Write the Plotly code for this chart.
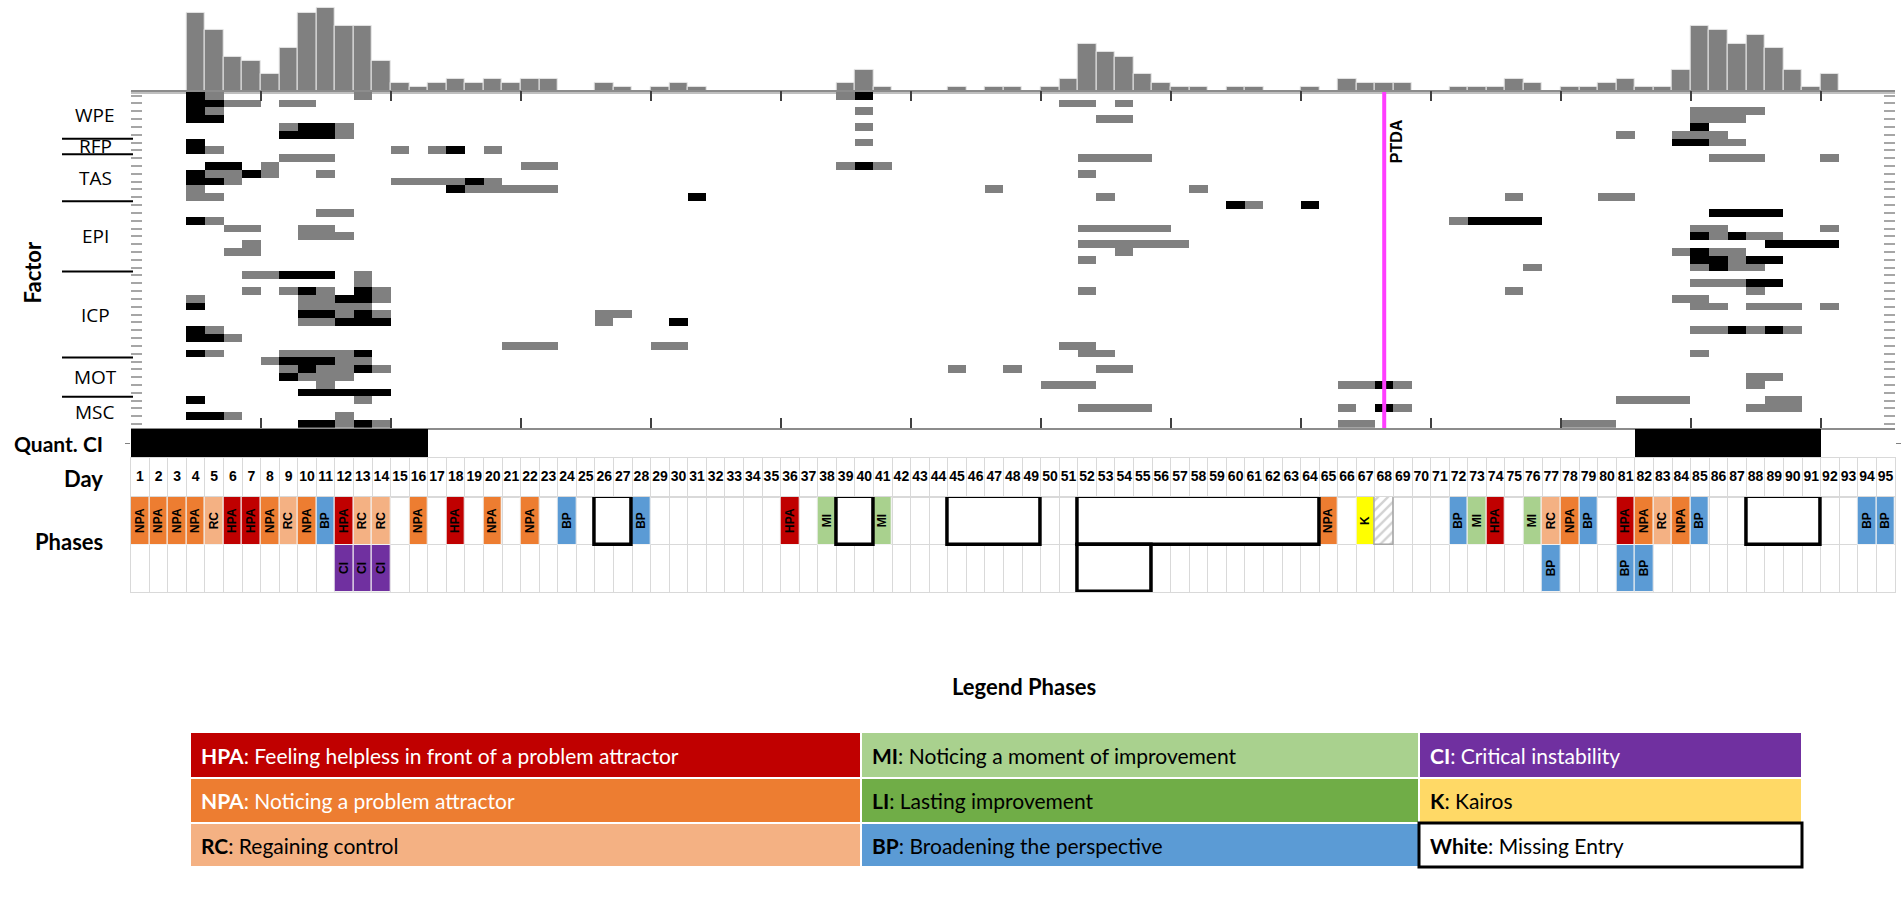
import plotly.graph_objects as go

W, H = 1902, 908

# ---------------- data ----------------
days = list(range(1, 96))
day_labels = [str(d) for d in days]

hist_counts = [0, 0, 0, 18, 14, 8, 7, 4, 10, 18,
               19, 15, 15, 7, 2, 1, 2, 3, 2, 3,
               2, 3, 3, 0, 0, 2, 1, 0, 1, 2,
               1, 0, 0, 0, 0, 0, 0, 0, 2, 5,
               1, 0, 0, 0, 1, 0, 1, 1, 0, 1,
               3, 11, 9, 8, 4, 2, 1, 1, 0, 1,
               1, 0, 0, 1, 0, 3, 2, 2, 2, 0,
               0, 1, 1, 1, 3, 2, 0, 1, 1, 2,
               3, 1, 1, 5, 15, 14, 11, 13, 10, 5,
               1, 4, 0, 0, 0]

factor_groups = ["WPE", "RFP", "TAS", "EPI", "ICP", "MOT", "MSC"]
factor_group_rows = [6, 2, 6, 9, 11, 5, 4]

G, B = 1, 2  # 1 = grey cell, 2 = black cell
# (row inside group, first day, last day, level)
wpe_cells = [(0, 4, 4, B), (0, 5, 5, G), (0, 13, 13, G), (0, 39, 39, G), (0, 40, 40, B),
             (1, 4, 5, B), (1, 6, 7, G), (1, 9, 10, G), (1, 51, 52, G), (1, 54, 54, G),
             (2, 4, 4, B), (2, 5, 5, G), (2, 40, 40, G), (2, 85, 88, G),
             (3, 4, 5, B), (3, 53, 54, G), (3, 85, 87, G),
             (4, 9, 9, G), (4, 10, 11, B), (4, 12, 12, G), (4, 40, 40, G), (4, 85, 85, B),
             (5, 9, 11, B), (5, 12, 12, G), (5, 81, 81, G), (5, 84, 86, G)]
rfp_cells = [(0, 4, 4, B), (0, 40, 40, G), (0, 84, 85, B), (0, 86, 87, G),
             (1, 4, 4, B), (1, 5, 5, G), (1, 15, 15, G), (1, 17, 17, G), (1, 18, 18, B), (1, 20, 20, G)]
tas_cells = [(0, 9, 11, G), (0, 52, 55, G), (0, 86, 88, G), (0, 92, 92, G),
             (1, 5, 6, B), (1, 8, 8, G), (1, 22, 23, G), (1, 39, 39, G), (1, 40, 40, B), (1, 41, 41, G),
             (2, 4, 4, B), (2, 5, 6, G), (2, 7, 7, B), (2, 8, 8, G), (2, 11, 11, G), (2, 52, 52, G),
             (3, 4, 5, B), (3, 6, 6, G), (3, 15, 18, G), (3, 19, 19, B), (3, 20, 20, G),
             (4, 4, 4, G), (4, 18, 18, B), (4, 19, 23, G), (4, 47, 47, G), (4, 58, 58, G),
             (5, 4, 5, G), (5, 31, 31, B), (5, 53, 53, G), (5, 75, 75, G), (5, 80, 81, G)]
epi_cells = [(0, 60, 60, B), (0, 61, 61, G), (0, 64, 64, B),
             (1, 11, 12, G), (1, 86, 89, B),
             (2, 4, 4, B), (2, 5, 5, G), (2, 72, 72, G), (2, 73, 76, B),
             (3, 6, 7, G), (3, 10, 11, G), (3, 52, 56, G), (3, 85, 86, G), (3, 92, 92, G),
             (4, 10, 12, G), (4, 85, 85, B), (4, 86, 86, G), (4, 87, 87, B), (4, 88, 89, G),
             (5, 7, 7, G), (5, 52, 57, G), (5, 89, 92, B),
             (6, 6, 7, G), (6, 54, 54, G), (6, 84, 84, G), (6, 85, 85, B), (6, 86, 87, G),
             (7, 52, 52, G), (7, 85, 86, B), (7, 87, 87, G), (7, 88, 89, B),
             (8, 76, 76, G), (8, 85, 85, G), (8, 86, 86, B), (8, 87, 88, G)]
icp_cells = [(0, 7, 8, G), (0, 9, 11, B), (0, 13, 13, G),
             (1, 13, 13, G), (1, 85, 87, G), (1, 88, 89, B),
             (2, 7, 7, G), (2, 9, 9, G), (2, 10, 10, B), (2, 11, 11, G), (2, 13, 13, B), (2, 14, 14, G),
             (2, 52, 52, G), (2, 75, 75, G), (2, 88, 88, G),
             (3, 4, 4, G), (3, 10, 11, G), (3, 12, 13, B), (3, 14, 14, G), (3, 84, 85, G),
             (4, 4, 4, B), (4, 10, 13, G), (4, 85, 86, G), (4, 88, 90, G), (4, 92, 92, G),
             (5, 10, 11, B), (5, 12, 12, G), (5, 13, 13, B), (5, 14, 14, G), (5, 26, 27, G),
             (6, 10, 11, G), (6, 12, 14, B), (6, 26, 26, G), (6, 30, 30, B),
             (7, 4, 4, B), (7, 5, 5, G), (7, 85, 86, G), (7, 87, 87, B), (7, 88, 88, G), (7, 89, 89, B), (7, 90, 90, G),
             (8, 4, 5, B), (8, 6, 6, G),
             (9, 21, 23, G), (9, 29, 30, G), (9, 51, 52, G),
             (10, 4, 4, B), (10, 5, 5, G), (10, 9, 12, G), (10, 13, 13, B), (10, 52, 53, G), (10, 85, 85, G)]
mot_cells = [(0, 8, 8, G), (0, 9, 11, B), (0, 12, 13, G),
             (1, 9, 9, G), (1, 10, 10, B), (1, 11, 12, G), (1, 13, 13, B), (1, 14, 14, G),
             (1, 45, 45, G), (1, 48, 48, G), (1, 53, 54, G),
             (2, 9, 9, B), (2, 10, 12, G), (2, 88, 89, G),
             (3, 11, 11, G), (3, 50, 52, G), (3, 66, 67, G), (3, 68, 68, B), (3, 69, 69, G), (3, 88, 88, G),
             (4, 10, 14, B)]
msc_cells = [(0, 4, 4, B), (0, 13, 13, G), (0, 81, 84, G), (0, 89, 90, G),
             (1, 52, 55, G), (1, 66, 66, G), (1, 68, 68, B), (1, 69, 69, G), (1, 88, 90, G),
             (2, 4, 5, B), (2, 6, 6, G), (2, 12, 12, G),
             (3, 10, 11, B), (3, 12, 12, G), (3, 13, 13, B), (3, 14, 14, G), (3, 66, 67, G), (3, 78, 80, G)]
factor_cells = [wpe_cells, rfp_cells, tas_cells, epi_cells, icp_cells, mot_cells, msc_cells]

quant_ci_spans = [(1, 16), (82, 91)]
ptda_day = 68

phase_row1_days = [1, 2, 3, 4, 5, 6, 7, 8, 9, 10, 11, 12, 13, 14, 16, 18, 20, 22, 24, 28,
                   36, 38, 41, 65, 67, 72, 73, 74, 76, 77, 78, 79, 81, 82, 83, 84, 85, 94, 95]
phase_row1_codes = ["NPA", "NPA", "NPA", "NPA", "RC", "HPA", "HPA", "NPA", "RC", "NPA", "BP", "HPA",
                    "RC", "RC", "NPA", "HPA", "NPA", "NPA", "BP", "BP",
                    "HPA", "MI", "MI", "NPA", "K", "BP", "MI", "HPA", "MI", "RC", "NPA", "BP",
                    "HPA", "NPA", "RC", "NPA", "BP", "BP", "BP"]
phase_row2_days = [12, 13, 14, 77, 81, 82]
phase_row2_codes = ["CI", "CI", "CI", "BP", "BP", "BP"]
missing_row1 = [(26, 27), (39, 40), (45, 49), (52, 64), (88, 91)]
missing_row2 = [(52, 55)]
hatched_row1 = [68]

phase_colors = {"HPA": "#C00000", "NPA": "#ED7D31", "RC": "#F4B183", "MI": "#A9D18E",
                "LI": "#70AD47", "BP": "#5B9BD5", "CI": "#7030A0", "K": "#FFFF00"}

legend_codes = [["HPA", "MI", "CI"], ["NPA", "LI", "K"], ["RC", "BP", "White"]]
legend_texts = [["Feeling helpless in front of a problem attractor", "Noticing a moment of improvement",
                 "Critical instability"],
                ["Noticing a problem attractor", "Lasting improvement", "Kairos"],
                ["Regaining control", "Broadening the perspective", "Missing Entry"]]
legend_fills = [["#C00000", "#A9D18E", "#7030A0"],
                ["#ED7D31", "#70AD47", "#FFD966"],
                ["#F4B183", "#5B9BD5", "#FFFFFF"]]
legend_font_colors = [["white", "black", "white"],
                      ["white", "black", "black"],
                      ["black", "black", "black"]]

# ---------------- helpers (layout in pixels) ----------------
def px(xp):
    return xp / W


def py(yp):
    return 1 - yp / H


def ydom(top_px, bottom_px):
    return [py(bottom_px), py(top_px)]


XL, XR = 130.7, 1894.9
xdom = [px(XL), px(XR)]
n_rows = sum(factor_group_rows)

# heat matrix
z = [[None] * len(days) for _ in range(n_rows)]
offset = 0
for cells, nr in zip(factor_cells, factor_group_rows):
    for r, d0, d1, v in cells:
        for d in range(d0, d1 + 1):
            z[offset + r][d - 1] = v
    offset += nr

quant_vals = [1 if any(a <= d <= b for a, b in quant_ci_spans) else 0 for d in days]
week_ticks = [d + 0.5 for d in days if d % 7 == 0]

fig = go.Figure()

# histogram
fig.add_trace(go.Bar(x=days, y=hist_counts, width=1, xaxis="x", yaxis="y",
                     marker=dict(color="#808080", line=dict(color="#e6e6e6", width=1)),
                     hoverinfo="skip", showlegend=False))

# heatmap
fig.add_trace(go.Heatmap(x=days, y=list(range(n_rows)), z=z, zmin=1, zmax=2,
                         colorscale=[[0, "#808080"], [0.5, "#808080"], [0.5, "#000000"], [1, "#000000"]],
                         showscale=False, xaxis="x2", yaxis="y2", hoverinfo="skip"))

# PTDA line
fig.add_trace(go.Scatter(x=[ptda_day, ptda_day], y=[-0.5, n_rows - 0.5], mode="lines",
                         line=dict(color="#FF3DFF", width=4), xaxis="x2", yaxis="y2",
                         hoverinfo="skip", showlegend=False))

# quant CI
fig.add_trace(go.Bar(x=days, y=quant_vals, width=1, xaxis="x3", yaxis="y3",
                     marker=dict(color="black", line=dict(width=0)),
                     hoverinfo="skip", showlegend=False))

# day labels
fig.add_trace(go.Scatter(x=days, y=[0.5] * len(days), mode="text", text=day_labels,
                         textfont=dict(family="Liberation Sans Narrow, Arial Narrow, sans-serif",
                                       size=14, color="black", weight="bold"),
                         xaxis="x4", yaxis="y4", hoverinfo="skip", showlegend=False))

# phases
bar_text_font = dict(family="Liberation Sans, Arial, sans-serif", size=12, color="black", weight="bold")
for row_idx, (pd_, pc_) in enumerate([(phase_row1_days, phase_row1_codes),
                                      (phase_row2_days, phase_row2_codes)]):
    fig.add_trace(go.Bar(x=pd_, y=[1] * len(pd_), base=row_idx, width=1,
                         marker=dict(color=[phase_colors[c] for c in pc_],
                                     line=dict(color="#f2f2f2", width=1)),
                         text=pc_, textangle=-90, textposition="inside", insidetextanchor="middle",
                         textfont=bar_text_font, constraintext="none",
                         xaxis="x5", yaxis="y5", hoverinfo="skip", showlegend=False))

fig.add_trace(go.Bar(x=hatched_row1, y=[1] * len(hatched_row1), base=0, width=1,
                     marker=dict(color="white", line=dict(color="#a6a6a6", width=1.5),
                                 pattern=dict(shape="/", fgcolor="#a6a6a6", bgcolor="white",
                                              size=7, solidity=0.35)),
                     xaxis="x5", yaxis="y5", hoverinfo="skip", showlegend=False))

for row_idx, spans in enumerate([missing_row1, missing_row2]):
    fig.add_trace(go.Bar(x=[(a + b) / 2 for a, b in spans], width=[b - a + 1 for a, b in spans],
                         y=[1] * len(spans), base=row_idx,
                         marker=dict(color="white", line=dict(color="black", width=3.5)),
                         xaxis="x5", yaxis="y5", hoverinfo="skip", showlegend=False))

# ---------------- axes ----------------
common_x = dict(range=[0.5, 95.5], domain=xdom, fixedrange=True, zeroline=False, showgrid=False)
grid_x = dict(common_x, showgrid=True, gridcolor="#d9d9d9", gridwidth=1,
              tickvals=[d - 0.5 for d in days] + [95.5], ticks="", showticklabels=False,
              showline=True, linecolor="#d9d9d9", mirror=True)

layout = dict(
    width=W, height=H, autosize=False,
    margin=dict(l=0, r=0, t=0, b=0),
    paper_bgcolor="white", plot_bgcolor="rgba(0,0,0,0)",
    barmode="overlay", bargap=0, showlegend=False,
    font=dict(family="Lato, Open Sans, sans-serif", color="black"),
    xaxis=dict(common_x, anchor="y", showline=True, linecolor="#bfbfbf", linewidth=2,
               showticklabels=False, ticks=""),
    yaxis=dict(domain=ydom(3.9, 91.7), range=[0, 20], visible=False, anchor="x", fixedrange=True),
    xaxis2=dict(common_x, anchor="y2", showline=True, linecolor="#8c8c8c", linewidth=1.5,
                mirror="ticks", ticks="inside", tickvals=week_ticks, ticklen=10, tickwidth=2,
                tickcolor="#404040", showticklabels=False),
    yaxis2=dict(domain=ydom(91.7, 428), range=[n_rows - 0.5, -0.5], anchor="x2",
                tickvals=list(range(n_rows)), ticks="inside", ticklen=11, tickwidth=1.5,
                tickcolor="#a6a6a6", mirror="ticks", showline=False, showticklabels=False,
                showgrid=False, zeroline=False, fixedrange=True),
    xaxis3=dict(common_x, anchor="y3", visible=False),
    yaxis3=dict(domain=ydom(429, 458), range=[0, 1], anchor="x3", tickvals=[0.5], ticks="outside",
                ticklen=5, tickcolor="#808080", mirror="ticks", showticklabels=False,
                showgrid=False, zeroline=False, showline=False, fixedrange=True),
    xaxis4=dict(grid_x, anchor="y4"),
    yaxis4=dict(domain=ydom(458, 497), range=[0, 1], anchor="x4", showgrid=False, zeroline=False,
                showticklabels=False, ticks="", showline=True, linecolor="#d9d9d9", mirror=True,
                fixedrange=True),
    xaxis5=dict(grid_x, anchor="y5"),
    yaxis5=dict(domain=ydom(497, 592), range=[2, 0], anchor="x5", tickvals=[0, 1, 2],
                showgrid=True, gridcolor="#d9d9d9", zeroline=False, showticklabels=False, ticks="",
                showline=True, linecolor="#d9d9d9", mirror=True, fixedrange=True),
)

annotations = []
shapes = []

# factor group labels and separators
offset = 0
for gi, (name, nr) in enumerate(zip(factor_groups, factor_group_rows)):
    annotations.append(dict(x=px(95), y=offset + (nr - 1) / 2, xref="paper", yref="y2",
                            text=name, showarrow=False, xanchor="center", yanchor="middle",
                            font=dict(family="Open Sans, sans-serif", size=19, color="black")))
    if gi < len(factor_groups) - 1:
        yb = offset + nr - 0.5
        shapes.append(dict(type="line", xref="paper", yref="y2", x0=px(62), x1=px(133),
                           y0=yb, y1=yb, line=dict(color="black", width=2)))
    offset += nr

annotations.append(dict(x=ptda_day, y=5.8, xref="x2", yref="y2", text="<b>PTDA</b>",
                        textangle=-90, showarrow=False, xshift=13, yanchor="middle",
                        font=dict(family="Liberation Sans, Arial, sans-serif", size=16, color="black")))

side_font = dict(family="Lato, Open Sans, sans-serif", size=22, color="black")
annotations.append(dict(x=px(16), y=py(240), xref="paper", yref="paper", text="<b>Factor</b>",
                        textangle=-90, showarrow=False, font=side_font))
for txt, yy in [("Quant. CI", 443), ("Day", 478), ("Phases", 541)]:
    annotations.append(dict(x=px(105), y=py(yy), xref="paper", yref="paper", text="<b>%s</b>" % txt,
                            showarrow=False, xanchor="right", yanchor="middle",
                            font=dict(side_font, size=21 if txt == "Quant. CI" else 22)))

annotations.append(dict(x=px(1024), y=py(702), xref="paper", yref="paper",
                        text="<b>Legend Phases</b>", showarrow=False,
                        font=dict(family="Lato, Open Sans, sans-serif", size=22, color="black")))

# legend table
col_edges = [190, 861, 1419, 1802]
row_edges = [732, 778, 823, 867]
for ri in range(3):
    for ci in range(3):
        code = legend_codes[ri][ci]
        is_white = code == "White"
        shapes.append(dict(type="rect", xref="paper", yref="paper",
                           x0=px(col_edges[ci]), x1=px(col_edges[ci + 1]),
                           y0=py(row_edges[ri + 1]), y1=py(row_edges[ri]),
                           fillcolor=legend_fills[ri][ci],
                           line=dict(color="black" if is_white else "white", width=3 if is_white else 2)))
        annotations.append(dict(x=px(col_edges[ci] + 9), y=py((row_edges[ri] + row_edges[ri + 1]) / 2),
                                xref="paper", yref="paper", xanchor="left", yanchor="middle",
                                text="<b>%s</b>: %s" % (code, legend_texts[ri][ci]), showarrow=False,
                                font=dict(family="Lato, Open Sans, sans-serif", size=21,
                                          color=legend_font_colors[ri][ci])))

layout["annotations"] = annotations
layout["shapes"] = shapes
fig.update_layout(**layout)

fig.write_html("out.html", config={"displayModeBar": False},
               post_script="document.body.style.margin='0';document.body.style.overflow='hidden';")
